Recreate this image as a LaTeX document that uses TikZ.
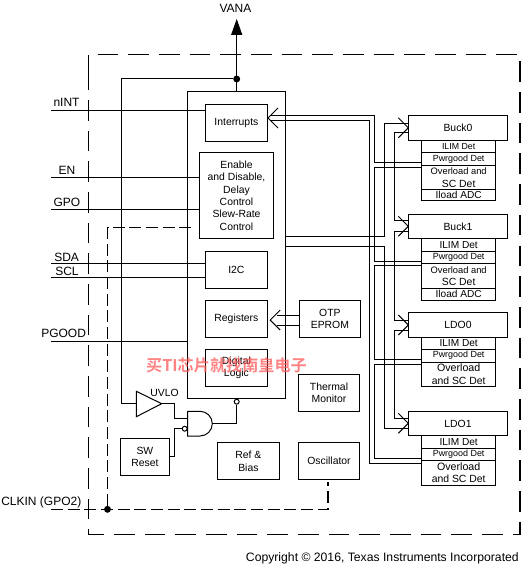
\documentclass[tikz,border=0pt]{standalone}
\usepackage{fontspec}
\setmainfont{Liberation Sans}
\newfontfamily\cjk{Noto Sans CJK SC Bold}
\usetikzlibrary{calc}
\definecolor{wm}{HTML}{FF5A5A}
\newcommand\fz[2]{\fontsize{#1}{#2}\selectfont}
\newcommand\bx[6]{%
  \pgfmathsetmacro\bxw{(#4-#2)*0.75}%
  \pgfmathsetmacro\bxh{(#5-#3)*0.75}%
  \node[blk,minimum width=\bxw pt,minimum height=\bxh pt] (#1) at ({(#2+#4)/2},{(#3+#5)/2}) {#6};}
\newcommand\chevr[3]{\draw[wire] (#1+#3*10,#2-10) -- (#1,#2) -- (#1+#3*10,#2+10);}
\tikzset{
  wire/.style={line width=0.75pt,line join=miter},
  blk/.style={draw,line width=0.75pt,inner sep=0pt,outer sep=0pt,align=center,font=\fontsize{7.8}{9.3}\selectfont,fill=none},
  lbl/.style={inner sep=0pt,font=\fontsize{9}{11}\selectfont},
  outerdash/.style={line width=1pt,dash pattern=on 15.5pt off 7.5pt},
  innerdash/.style={line width=1pt,dash pattern=on 9pt off 3.5pt},
  dotn/.style={circle,fill,inner sep=0pt,minimum size=5.2pt},
  bub/.style={circle,draw,line width=0.75pt,fill=white,inner sep=0pt,minimum size=3.7pt},
}
\begin{document}
\begin{tikzpicture}[x=0.75pt,y=-0.75pt]
\useasboundingbox (0,0) rectangle (521,566);
% outer dashed border
\draw[outerdash] (88.5,76) -- (88.5,54.5) -- (520,54.5) -- (520,534.7) -- (88.5,534.7) -- cycle;
% blocks
\bx{main}{187.7}{91.3}{285.7}{398.3}{}
\bx{intr}{205.3}{104.3}{267.5}{141.5}{Interrupts}
\bx{enab}{199.5}{152.5}{273.5}{238.5}{Enable\\and Disable,\\Delay\\Control\\Slew-Rate\\Control}
\bx{itc}{205.3}{251.5}{267.5}{288.3}{I2C}
\bx{regs}{205.3}{300.3}{267.5}{337.5}{Registers}
\bx{digi}{205.3}{349.3}{267.5}{386.5}{Digital\\Logic}
\bx{otp}{299.3}{300.3}{360.5}{337.5}{OTP\\EPROM}
\bx{therm}{298.5}{374.3}{359.5}{411.5}{Thermal\\Monitor}
\bx{osc}{298.5}{442.7}{359.5}{479.5}{Oscillator}
\bx{ref}{217.3}{442.7}{279.5}{479.5}{Ref \&\\Bias}
\bx{sw}{120.3}{438.3}{169.5}{475.5}{SW\\Reset}
% Buck0
\bx{bka}{408.3}{115.3}{507.7}{140.7}{Buck0}
\bx{bkaI}{421.7}{140.7}{495.6}{152.3}{\fz{6.6}{8}ILIM Det}
\bx{bkaP}{421.7}{152.3}{495.6}{165.7}{\fz{6.7}{8}Pwrgood Det}
\bx{bkaO}{421.7}{165.7}{495.6}{189.7}{\fz{7}{7.8}Overload and\\SC Det}
\bx{bkaA}{421.7}{189.7}{495.6}{201}{\fz{7.6}{8}Iload ADC}
% Buck1
\bx{bkb}{408.3}{214.3}{507.7}{238.3}{Buck1}
\bx{bkbI}{421.7}{238.3}{495.6}{251.3}{\fz{7.6}{8}ILIM Det}
\bx{bkbP}{421.7}{251.3}{495.6}{263.7}{\fz{6.7}{8}Pwrgood Det}
\bx{bkbO}{421.7}{263.7}{495.6}{288.3}{\fz{7}{7.8}Overload and\\SC Det}
\bx{bkbA}{421.7}{288.3}{495.6}{300}{\fz{7.6}{8}Iload ADC}
% LDO0
\bx{lda}{408.3}{312.3}{507.7}{337.7}{LDO0}
\bx{ldaI}{421.7}{337.7}{495.6}{349.3}{\fz{7.6}{8}ILIM Det}
\bx{ldaP}{421.7}{349.3}{495.6}{362}{\fz{6.7}{8}Pwrgood Det}
\bx{ldaO}{421.7}{362}{495.6}{386.3}{\fz{8}{9.3}Overload\\and SC Det}
% LDO1
\bx{ldb}{408.3}{411.3}{507.7}{435.7}{LDO1}
\bx{ldbI}{421.7}{435.7}{495.6}{448.3}{\fz{7.6}{8}ILIM Det}
\bx{ldbP}{421.7}{448.3}{495.6}{460.3}{\fz{6.7}{8}Pwrgood Det}
\bx{ldbO}{421.7}{460.3}{495.6}{485.3}{\fz{8}{9.3}Overload\\and SC Det}
% left pins
\coordinate (pNINT) at (51,110.3);
\coordinate (pEN) at (51,177.3);
\coordinate (pGPO) at (51,209.5);
\coordinate (pSDA) at (51,263.3);
\coordinate (pSCL) at (51,277);
\coordinate (pPG) at (51,341.3);
\coordinate (pCK) at (51,509.3);
\draw[wire] (pNINT) -- (pNINT -| intr.west);
\draw[wire] (pEN) -- (pEN -| enab.west);
\draw[wire] (pGPO) -- (pGPO -| enab.west);
\draw[wire] (pSDA) -- (pSDA -| itc.west);
\draw[wire] (pSCL) -- (pSCL -| itc.west);
\draw[wire] (pPG) -- (pPG -| main.west);
% labels
\node[lbl,anchor=base] (lVANA) at (235.5,12.5) {VANA};
\node[lbl,anchor=base west] (lNINT) at (53.3,106.5) {nINT};
\node[lbl,anchor=base west] (lEN) at (58.3,175) {EN};
\node[lbl,anchor=base west] (lGPO) at (53.3,206.5) {GPO};
\node[lbl,anchor=base west] (lSDA) at (54,261) {SDA};
\node[lbl,anchor=base west] (lSCL) at (55,275) {SCL};
\node[lbl,anchor=base west] (lPG) at (41,337) {PGOOD};
\node[lbl,anchor=base west] (lCK) at (1,505) {CLKIN (GPO2)};
\node[lbl,anchor=base east,font=\fontsize{9.15}{11}\selectfont] (lCopy) at (519,561) {Copyright © 2016, Texas Instruments Incorporated};
% VANA
\node[dotn] (dA) at (236.7,79) {};
\coordinate (vtip) at (236.7,19);
\draw[wire] (main.north) -- (vtip |- 0,30);
\fill (vtip) -- (231,35) -- (242.4,35) -- cycle;
\draw[wire] (dA) -- (121.5,79) -- (121.5,403.3) -- (136.3,403.3);
% UVLO and gate
\coordinate (ba) at (136.3,391.3);
\coordinate (bb) at (136.3,416.7);
\coordinate (bt) at (161.7,403.7);
\draw[wire] (ba) -- (bb) -- (bt) -- cycle;
\node[blk,draw=none,anchor=base] (lUV) at (164.5,396) {UVLO};
\draw[wire] (187.7,411.3) -- (187.7,436) -- (200,436) arc[start angle=90,end angle=-90,x radius=12.3,y radius=12.35] -- cycle;
\node[bub] (bIn) at (184.7,428.7) {};
\node[bub] (bOut) at (236.7,401.7) {};
\draw[wire] (bt) -- (174.5,403.7) -- (174.5,418.3) -- (187.7,418.3);
\draw[wire] (212.3,423.7) -- (bOut.south |- 0,423.7) -- (bOut.south);
\draw[wire] (sw.east |- 0,456.5) -- (174.5,456.5) -- (174.5,428.7) -- (bIn.west);
% dashed inner
\node[dotn] (dB) at (107.5,509.3) {};
\draw[innerdash] (pCK) -- (328,509.3) -- (328,481.5);
\draw[innerdash] (dB) -- (107.5,227.5) -- (196,227.5);
% OTP to registers
\draw[wire] (otp.west |- 0,315.3) -- (277,315.3);
\draw[wire] (otp.west |- 0,325) -- (277,325);
\chevr{270.2}{320}{1}
% Interrupt returns
\chevr{268}{118}{1}
\draw[wire] (271,115.7) -- (374,115.7) -- (374,162.3) -- (bkaP.west |- 0,162.3);
\draw[wire] (271,120.5) -- (369.5,120.5) -- (369.5,463.3) -- (ldbO.west |- 0,463.3);
\draw[wire] (bkaO.west |- 0,167.3) -- (374,167.3) -- (374,261.7) -- (bkbP.west |- 0,261.7);
\draw[wire] (bkbO.west |- 0,265) -- (374,265) -- (374,359.3) -- (ldaP.west |- 0,359.3);
\draw[wire] (ldaO.west |- 0,364.3) -- (374,364.3) -- (374,458.3) -- (ldbP.west |- 0,458.3);
% enable chain
\draw[wire] (main.east |- 0,236.3) -- (384.3,236.3) -- (384.3,123.5) -- (bka.west |- 0,123.5);
\draw[wire] (main.east |- 0,246) -- (384.3,246) -- (384.3,428.3) -- (ldb.west |- 0,428.3);
\draw[wire] (bka.west |- 0,132.3) -- (394,132.3) -- (394,221) -- (bkb.west |- 0,221);
\draw[wire] (bkb.west |- 0,231.7) -- (394,231.7) -- (394,320) -- (lda.west |- 0,320);
\draw[wire] (lda.west |- 0,330) -- (394,330) -- (394,418.3) -- (ldb.west |- 0,418.3);
\chevr{408.3}{127.8}{-1}
\chevr{408.3}{226.3}{-1}
\chevr{408.3}{325}{-1}
\chevr{408.3}{423.3}{-1}
% watermark
\node[inner sep=0pt,text=wm,opacity=.75,font=\cjk\fontsize{12.1}{14}\selectfont] (wmark) at (226.5,365.5) {买TI芯片就找南皇电子};
\end{tikzpicture}
\end{document}
